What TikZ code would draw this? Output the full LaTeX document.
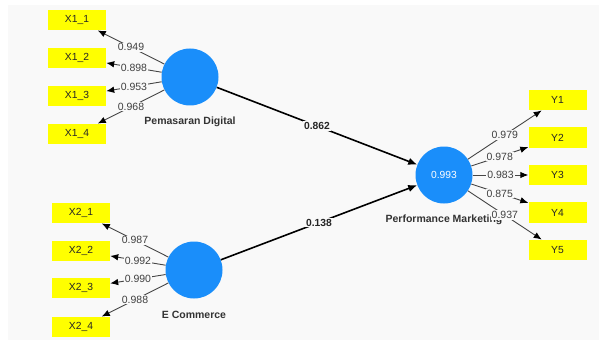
\documentclass[tikz,border=0pt]{standalone}
\usepackage{fontspec}
\setmainfont{Liberation Sans}
\usetikzlibrary{arrows.meta}
\definecolor{bgpanel}{RGB}{249,249,249}
\definecolor{lvblue}{RGB}{26,142,250}
\definecolor{indyellow}{RGB}{255,255,0}
\definecolor{loadgray}{RGB}{70,70,70}
\begin{document}
\begin{tikzpicture}[x=1pt,y=-1pt,
  ind/.style={fill=indyellow, minimum width=58pt, minimum height=20.5pt, inner sep=0pt, font=\fontsize{10.3}{12}\selectfont, text=black!85},
  lv/.style={circle, fill=lvblue, minimum size=57pt, inner sep=0pt},
  lvname/.style={font=\fontsize{10.5}{12}\selectfont\bfseries, text=black!80},
  loading/.style={draw=loadgray, line width=0.9pt, -{Latex[length=8pt,width=6.5pt,fill=black,color=black]}},
  pathc/.style={draw=black, line width=1.6pt, -{Latex[length=9pt,width=7.5pt]}},
  coef/.style={fill=bgpanel, inner sep=1pt, font=\fontsize{10.5}{12}\selectfont, text=black!75},
  pcoef/.style={fill=bgpanel, inner sep=1pt, font=\fontsize{10.3}{12}\selectfont\bfseries, text=black!85},
]
% canvas
\useasboundingbox (0,0) rectangle (599,350);
\fill[white] (0,0) rectangle (599,350);
\fill[bgpanel] (8,5) rectangle (599,340);

% latent variables
\node[lv] (pd) at (190,77) {};
\node[lv] (ec) at (194,270) {};
\node[lv, text=white, font=\fontsize{10.3}{12}\selectfont] (pm) at (444,175) {0.993};
\node[lvname] (pdname) at (190,122) {Pemasaran Digital};
\node[lvname] (ecname) at (194,315) {E Commerce};
\node[lvname] (pmname) at (444,220) {Performance Marketing};

% indicators
\node[ind] (x11) at (77,20) {X1\_1};
\node[ind] (x12) at (77,58) {X1\_2};
\node[ind] (x13) at (77,96) {X1\_3};
\node[ind] (x14) at (77,134) {X1\_4};
\node[ind] (x21) at (81,213) {X2\_1};
\node[ind] (x22) at (81,251) {X2\_2};
\node[ind] (x23) at (81,288) {X2\_3};
\node[ind] (x24) at (81,327) {X2\_4};
\node[ind] (y1) at (557.5,100) {Y1};
\node[ind] (y2) at (557.5,137.5) {Y2};
\node[ind] (y3) at (557.5,175) {Y3};
\node[ind] (y4) at (557.5,212.5) {Y4};
\node[ind] (y5) at (557.5,250) {Y5};

% outer loadings
\draw[loading] (pd) -- node[coef] {0.949} (x11);
\draw[loading] (pd) -- node[coef] {0.898} (x12);
\draw[loading] (pd) -- node[coef] {0.953} (x13);
\draw[loading] (pd) -- node[coef] {0.968} (x14);
\draw[loading] (ec) -- node[coef] {0.987} (x21);
\draw[loading] (ec) -- node[coef] {0.992} (x22);
\draw[loading] (ec) -- node[coef] {0.990} (x23);
\draw[loading] (ec) -- node[coef] {0.988} (x24);
\draw[loading] (pm) -- node[coef] {0.979} (y1);
\draw[loading] (pm) -- node[coef] {0.978} (y2);
\draw[loading] (pm) -- node[coef] {0.983} (y3);
\draw[loading] (pm) -- node[coef] {0.875} (y4);
\draw[loading] (pm) -- node[coef] {0.937} (y5);

% path coefficients
\draw[pathc] (pd) -- node[pcoef] {0.862} (pm);
\draw[pathc] (ec) -- node[pcoef] {0.138} (pm);
\end{tikzpicture}
\end{document}
